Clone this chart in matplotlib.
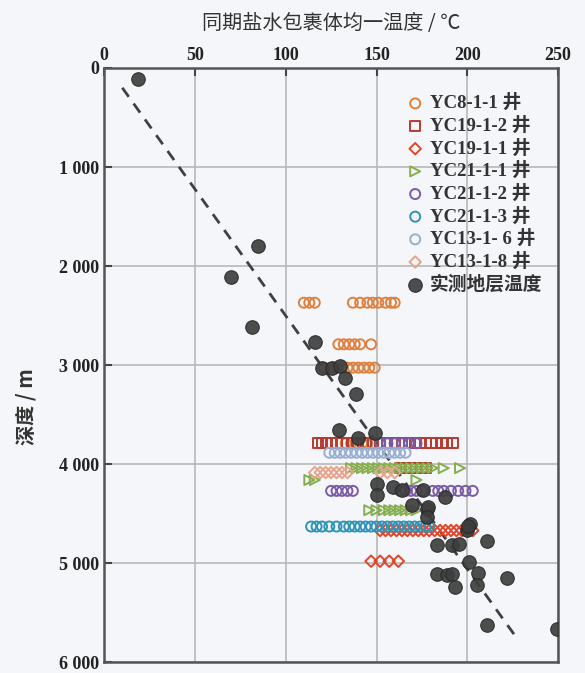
import matplotlib
matplotlib.use("Agg")
import matplotlib.pyplot as plt

plt.rcParams['font.family'] = ['Liberation Serif', 'Noto Sans CJK SC']

# 实测地层温度 (temperature degC, depth m)
meas_t = [18.6, 84.6, 69.9, 81.3, 116.2, 119.8, 125.4, 130.0, 132.7, 138.8,
          129.6, 149.2, 139.9, 150.2, 150.0, 159.0, 164.0, 175.7, 169.4, 177.7,
          178.4, 177.7, 187.8, 201.5, 199.7, 200.6, 183.1, 191.4, 195.6, 211.0,
          201.0, 183.5, 188.7, 191.4, 193.3, 206.0, 205.3, 221.7, 210.7, 249.6]
meas_d = [111, 1798, 2111, 2616, 2768, 3026, 3026, 3010, 3127, 3296,
          3660, 3690, 3740, 4200, 4315, 4230, 4265, 4265, 4415, 4450,
          4433, 4535, 4330, 4600, 4668, 4620, 4820, 4820, 4804, 4778,
          4990, 5107, 5124, 5107, 5242, 5100, 5225, 5148, 5629, 5663]

# fitted trend line ends
trend_t = [10, 227]
trend_d = [200, 5750]

yc8_1_1_t = [110, 113, 116, 137, 141, 145, 148, 151, 155, 158, 160,
             129, 132, 135, 138, 141, 147,
             121, 125, 128, 131, 134, 137, 140, 143, 146, 149,
             133, 136, 139, 142, 145, 148]
yc8_1_1_d = [2370] * 11 + [2790] * 6 + [3026] * 10 + [3790] * 6

yc19_1_2_t = [118, 120, 122, 125, 128, 131, 134, 137, 140, 144, 148, 152,
              156, 160, 164, 168, 171, 174, 177, 180, 183, 186, 189, 192,
              163, 166, 169, 172, 175, 177]
yc19_1_2_d = [3790] * 24 + [4040] * 6

yc19_1_1_t = [152, 155, 158, 161, 164, 167, 170, 173, 176, 179, 182, 185,
              188, 191, 194, 197, 200, 203,
              147, 152, 157, 162]
yc19_1_1_d = [4670] * 18 + [4980] * 4

yc21_1_1_t = [136, 139, 142, 145, 148, 151, 154, 157, 160, 163, 166, 169,
              172, 175, 178, 181, 187, 196,
              113, 116, 172,
              146, 150, 154, 157, 160, 163, 166, 169, 172]
yc21_1_1_d = [4040] * 18 + [4160] * 3 + [4465] * 9

yc21_1_2_t = [152, 156, 160, 164, 168, 172,
              125, 128, 131, 134, 137, 163, 166, 169, 172, 175,
              181, 184, 187, 191, 195, 199, 203]
yc21_1_2_d = [3790] * 6 + [4270] * 17

yc21_1_3_t = [114, 117, 120, 124, 128, 132, 135, 138, 141, 144, 147, 150,
              153, 156, 159, 162, 165, 168, 171, 174, 177, 179]
yc21_1_3_d = [4630] * 22

yc13_1_6_t = [124, 127, 130, 133, 136, 139, 142, 145, 148, 151, 154, 157,
              160, 163, 166]
yc13_1_6_d = [3885] * 15

yc13_1_8_t = [116, 119, 122, 125, 128, 131, 134, 152, 156, 160]
yc13_1_8_d = [4085] * 10

series = [
    ("YC8-1-1 井", yc8_1_1_t, yc8_1_1_d, 'o', '#e0803e'),
    ("YC19-1-2 井", yc19_1_2_t, yc19_1_2_d, 's', '#b83a2e'),
    ("YC19-1-1 井", yc19_1_1_t, yc19_1_1_d, 'D', '#e2452a'),
    ("YC21-1-1 井", yc21_1_1_t, yc21_1_1_d, '>', '#86ad4e'),
    ("YC21-1-2 井", yc21_1_2_t, yc21_1_2_d, 'o', '#7b5ba8'),
    ("YC21-1-3 井", yc21_1_3_t, yc21_1_3_d, 'o', '#2d93b8'),
    ("YC13-1- 6 井", yc13_1_6_t, yc13_1_6_d, 'o', '#98aed3'),
    ("YC13-1-8 井", yc13_1_8_t, yc13_1_8_d, 'D', '#e6a58a'),
]

bg = '#f4f6f9'
fig = plt.figure(figsize=(5.85, 6.73), dpi=100, facecolor=bg)
ax = fig.add_axes([0.178, 0.016, 0.776, 0.883], facecolor=bg)

ax.grid(True, color='#b8b8b8', linewidth=1.2, zorder=0)
ax.set_axisbelow(True)

ax.plot(trend_t, trend_d, linestyle=(0, (4, 3)), color='#404040',
        linewidth=2, zorder=2)

for label, t, d, m, c in series:
    size = 34 if m == 'D' else 52
    ax.scatter(t, d, marker=m, s=size, facecolors='none', edgecolors=c,
               linewidths=1.4, label=label, zorder=3)

ax.scatter(meas_t, meas_d, s=95, color='#3e3e3e', edgecolors='#2a2a2a',
           linewidths=0.8, alpha=0.92, label='实测地层温度', zorder=4)

ax.set_xlim(0, 250)
ax.set_ylim(6000, 0)
ax.set_xticks([0, 50, 100, 150, 200, 250])
ax.set_yticks([0, 1000, 2000, 3000, 4000, 5000, 6000])
ax.set_yticklabels(['0', '1 000', '2 000', '3 000', '4 000', '5 000', '6 000'])
ax.xaxis.tick_top()
ax.xaxis.set_label_position('top')
ax.tick_params(axis='both', direction='in', length=6, width=1.5,
               color='#444444', labelsize=13, labelcolor='#222222')
ax.tick_params(axis='x', pad=3)
for lbl in ax.get_xticklabels() + ax.get_yticklabels():
    lbl.set_fontweight('bold')
for sp in ax.spines.values():
    sp.set_color('#555555')
    sp.set_linewidth(1.8)

ax.set_xlabel('同期盐水包裹体均一温度 / ℃', fontsize=14.5,
              family=['Noto Sans CJK SC', 'DejaVu Sans'], color='#333333',
              fontweight='medium', labelpad=13)
ax.set_ylabel('深度 / m', fontsize=14.5,
              family=['Noto Sans CJK SC', 'DejaVu Sans'], color='#333333',
              fontweight='bold')
ax.yaxis.set_label_coords(-0.15, 0.43)

leg = ax.legend(loc='upper right', bbox_to_anchor=(0.995, 0.978), frameon=False,
                fontsize=13.5, handletextpad=0.3, labelspacing=0.24,
                borderaxespad=0.3, handlelength=1.0)
for txt in leg.get_texts():
    txt.set_fontweight('bold')
    txt.set_color('#333333')

fig.savefig('out.png', dpi=100, facecolor=bg)
